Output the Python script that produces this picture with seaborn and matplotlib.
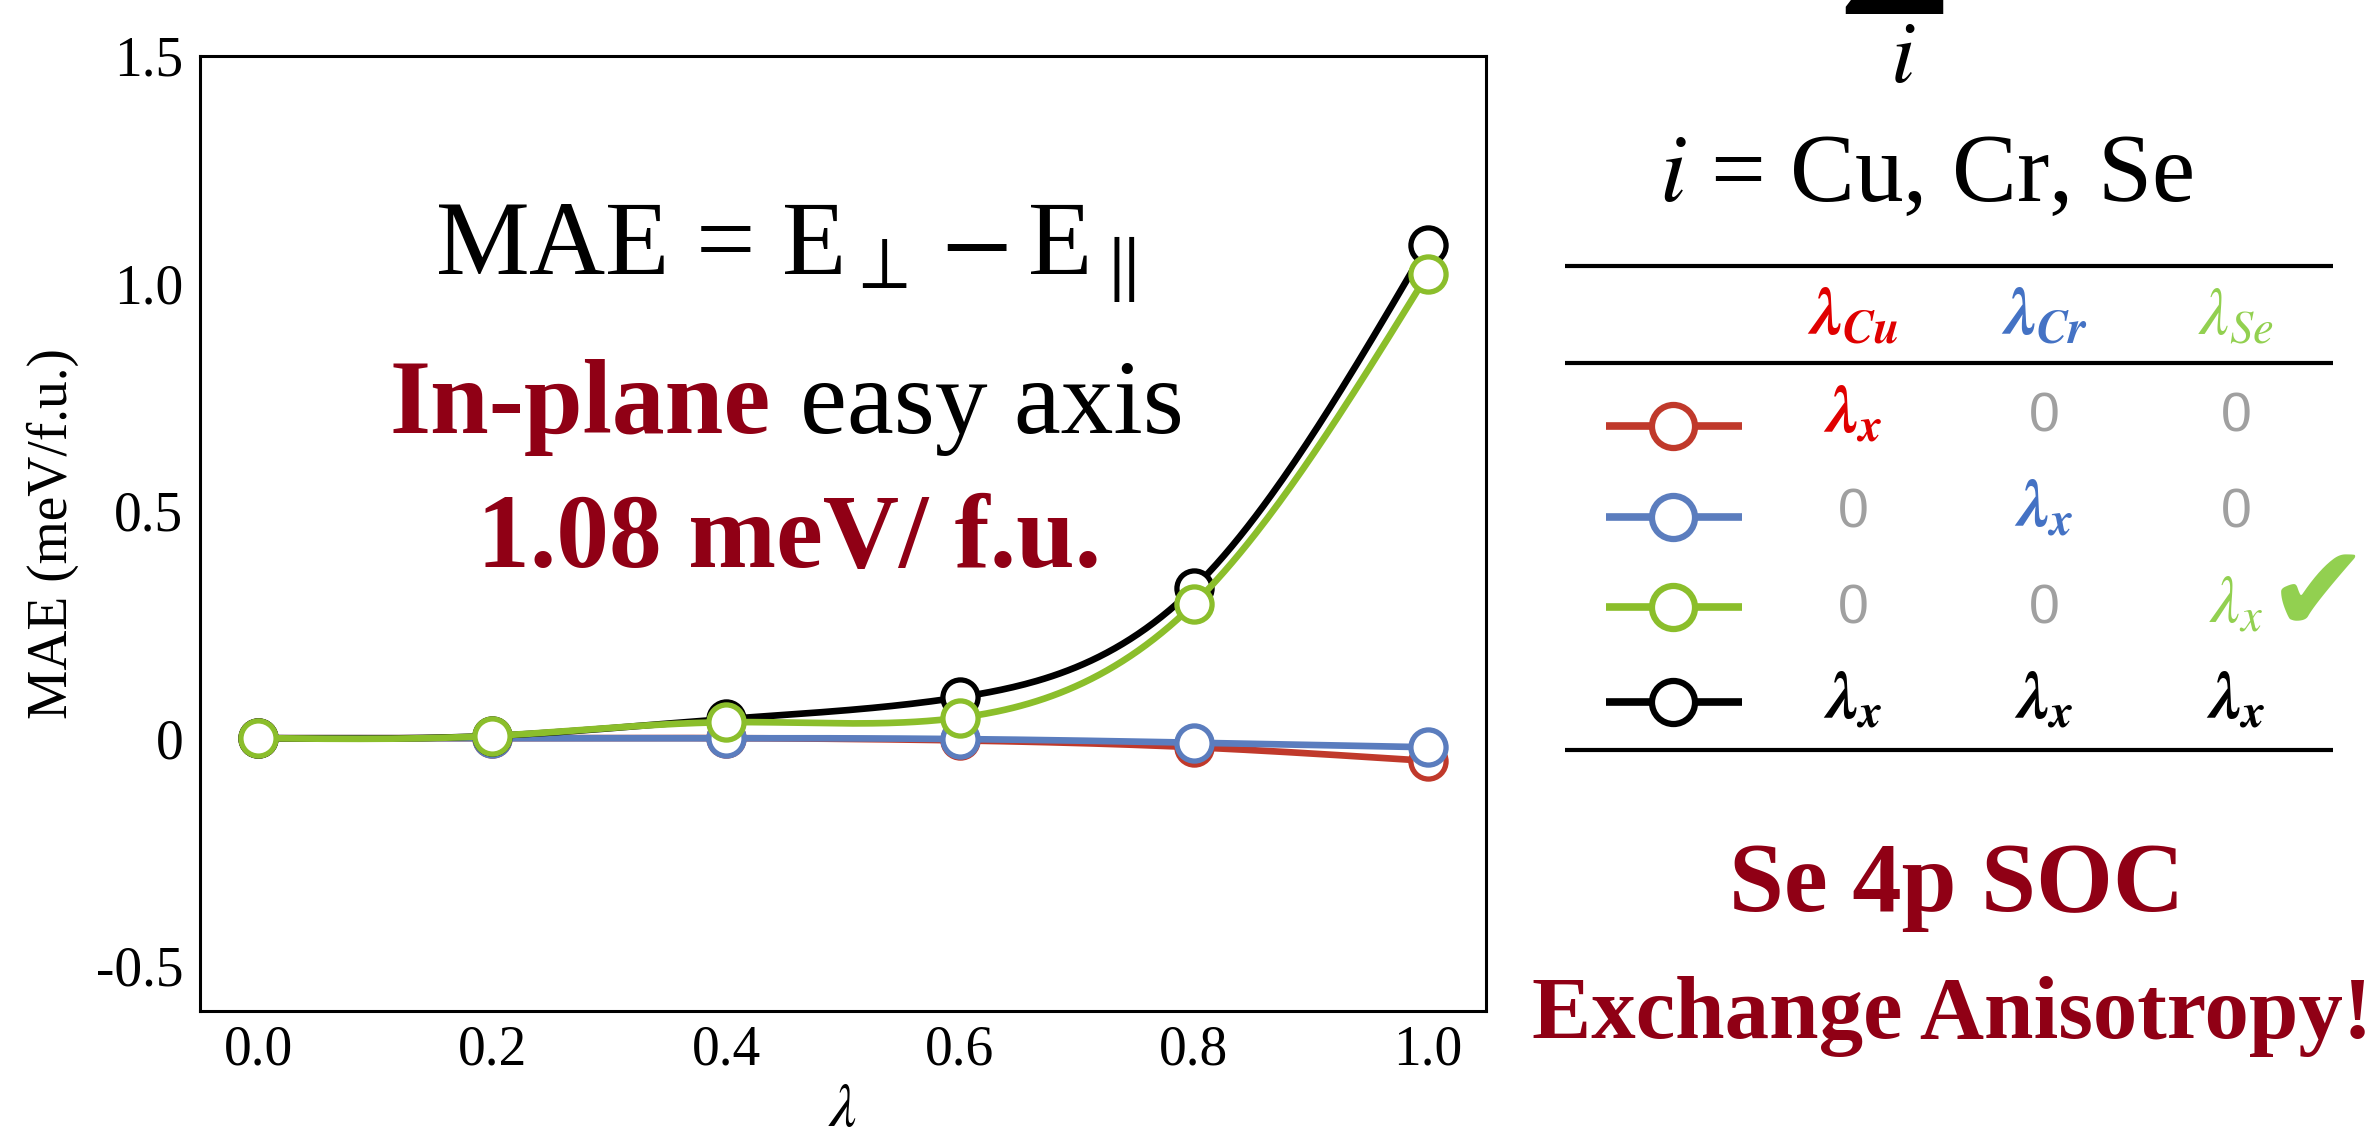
import numpy as np
import matplotlib
matplotlib.use("Agg")
import matplotlib.pyplot as plt
import seaborn as sns

# data
lam = [0.0, 0.2, 0.4, 0.6, 0.8, 1.0]
mae_cu = [0.0, 0.0, 0.0, -0.005, -0.02, -0.05]
mae_cr = [0.0, 0.0, 0.0, -0.002, -0.01, -0.02]
mae_all = [0.0, 0.005, 0.042, 0.09, 0.33, 1.085]
mae_se = [0.0, 0.005, 0.035, 0.045, 0.295, 1.02]

RED, BLUE, GREEN, BLACK = "#C0392B", "#5B7DBE", "#8BBE2B", "black"
series = [mae_cu, mae_cr, mae_all, mae_se]
colors = [RED, BLUE, BLACK, GREEN]

ytick_vals = [-0.5, 0, 0.5, 1.0, 1.5]
ytick_labels = ["-0.5", "0", "0.5", "1.0", "1.5"]
xtick_vals = [0.0, 0.2, 0.4, 0.6, 0.8, 1.0]
xtick_labels = ["0.0", "0.2", "0.4", "0.6", "0.8", "1.0"]

# table
col_x = [1853, 2044, 2236]
head_labels = [r"$\mathbfit{\lambda}_{\mathbfit{Cu}}$", r"$\mathbfit{\lambda}_{\mathbfit{Cr}}$", r"$\lambda_{Se}$"]
head_colors = ["#E00000", "#4472C4", "#92D050"]
cells = [["lx", "0", "0"], ["0", "lx", "0"], ["0", "0", "lx"], ["lx", "lx", "lx"]]
row_colors = [RED, BLUE, GREEN, BLACK]
lx_colors = ["#E00000", "#4472C4", "#92D050", "black"]
row_marker_y = [426, 517, 607, 702]
row_text_y = [432, 527, 623, 719]

DARKRED = "#900015"


def natural_spline(x, y, n=300):
    x = np.asarray(x, float)
    y = np.asarray(y, float)
    h = np.diff(x)
    m = len(x)
    A = np.zeros((m, m))
    b = np.zeros(m)
    A[0, 0] = A[-1, -1] = 1
    for i in range(1, m - 1):
        A[i, i - 1] = h[i - 1]
        A[i, i] = 2 * (h[i - 1] + h[i])
        A[i, i + 1] = h[i]
        b[i] = 3 * ((y[i + 1] - y[i]) / h[i] - (y[i] - y[i - 1]) / h[i - 1])
    c = np.linalg.solve(A, b)
    xs = np.linspace(x[0], x[-1], n)
    idx = np.clip(np.searchsorted(x, xs) - 1, 0, m - 2)
    dx = xs - x[idx]
    bb = (y[idx + 1] - y[idx]) / h[idx] - h[idx] * (2 * c[idx] + c[idx + 1]) / 3
    d = (c[idx + 1] - c[idx]) / (3 * h[idx])
    return xs, y[idx] + bb * dx + c[idx] * dx ** 2 + d * dx ** 3


sns.set_style("white")
plt.rcParams["font.family"] = ["Liberation Serif", "DejaVu Serif"]
plt.rcParams["mathtext.fontset"] = "stix"
plt.rcParams.update({"text.color": "black", "axes.labelcolor": "black",
                     "xtick.color": "black", "ytick.color": "black",
                     "axes.edgecolor": "black"})

W, H = 2372, 1135
fig = plt.figure(figsize=(W / 100, H / 100), dpi=100)
ax = fig.add_axes([200 / W, 1 - 1011 / H, 1286 / W, 955 / H])

z = 3
for vals, c in zip(series, colors):
    xs, ys = natural_spline(lam, vals)
    sns.lineplot(x=xs, y=ys, color=c, lw=4.8, ax=ax, zorder=z, sort=False, estimator=None)
    sns.scatterplot(x=lam, y=vals, s=640, color="white", edgecolor=c, linewidth=3.8,
                    ax=ax, zorder=z + 0.5, clip_on=False)
    z += 1

ax.set_xlim(-0.05, 1.05)
ax.set_ylim(-0.6, 1.5)
ax.set_xticks(xtick_vals, labels=xtick_labels)
ax.set_yticks(ytick_vals, labels=ytick_labels)
ax.set_yticks([-0.25, 0.25, 0.75, 1.25], minor=True)
ax.tick_params(which="both", direction="in", length=10, width=2, labelsize=40)
ax.tick_params(axis="y", pad=12)
ax.tick_params(axis="x", pad=10)
for s in ax.spines.values():
    s.set_linewidth(2.2)
ax.set_xlabel(r"$\lambda$", fontsize=44)
ax.xaxis.set_label_coords(0.5, -0.076)
ax.set_ylabel("MAE (meV/f.u.)", fontsize=40)
ax.yaxis.set_label_coords(-0.094, 0.5)

# overlay in pixel coordinates for annotations and the table
ov = fig.add_axes([0, 0, 1, 1], zorder=10)
ov.set_xlim(0, W)
ov.set_ylim(H, 0)
ov.axis("off")

ov.text(785, 274, r"MAE = E$_{\perp} - $E$_{\parallel}$", fontsize=76, ha="center", va="baseline")
ov.text(771, 433, "In-plane", fontsize=76, fontweight="bold", color=DARKRED, ha="right", va="baseline")
ov.text(800, 433, "easy axis", fontsize=76, ha="left", va="baseline")
ov.text(789, 567, "1.08 meV/ f.u.", fontsize=76, fontweight="bold", color=DARKRED, ha="center", va="baseline")

ov.text(1895, 14, "\u03A3", fontsize=144, ha="center", va="baseline", clip_on=False)
ov.text(1903, 82, r"$i$", fontsize=64, ha="center", va="baseline")
ov.text(1926, 201, r"$i$ = Cu, Cr, Se", fontsize=70, ha="center", va="baseline")

for yy in [266, 363, 750]:
    ov.plot([1565, 2333], [yy, yy], color="black", lw=3, solid_capstyle="butt")

for xx, lab, c in zip(col_x, head_labels, head_colors):
    ov.text(xx, 334, lab, fontsize=48, color=c, ha="center", va="baseline")

for r, row in enumerate(cells):
    c = row_colors[r]
    ym = row_marker_y[r]
    ov.plot([1606, 1742], [ym, ym], color=c, lw=5.5, solid_capstyle="butt")
    ov.plot([1673], [ym], "o", ms=31, mfc="white", mec=c, mew=4.5)
    for xx, cell in zip(col_x, row):
        if cell == "0":
            ov.text(xx, row_text_y[r], "0", fontsize=40, color="#A0A0A0",
                    family="Liberation Sans", ha="center", va="baseline")
        else:
            lab = r"$\mathbfit{\lambda}_{\mathbfit{x}}$" if r != 2 else r"$\lambda_x$"
            ov.text(xx, row_text_y[r], lab, fontsize=48, color=lx_colors[r], ha="center", va="baseline")

ov.text(2318, 598, "\u2714", fontsize=88, color="#92D050", family="DejaVu Sans", ha="center", va="center")

ov.text(1957, 911, "Se 4p SOC", fontsize=71, fontweight="bold", color=DARKRED, ha="center", va="baseline")
ov.text(1952, 1038, "Exchange Anisotropy!", fontsize=64, fontweight="bold", color=DARKRED, ha="center", va="baseline")

fig.savefig("out.png", dpi=100)
